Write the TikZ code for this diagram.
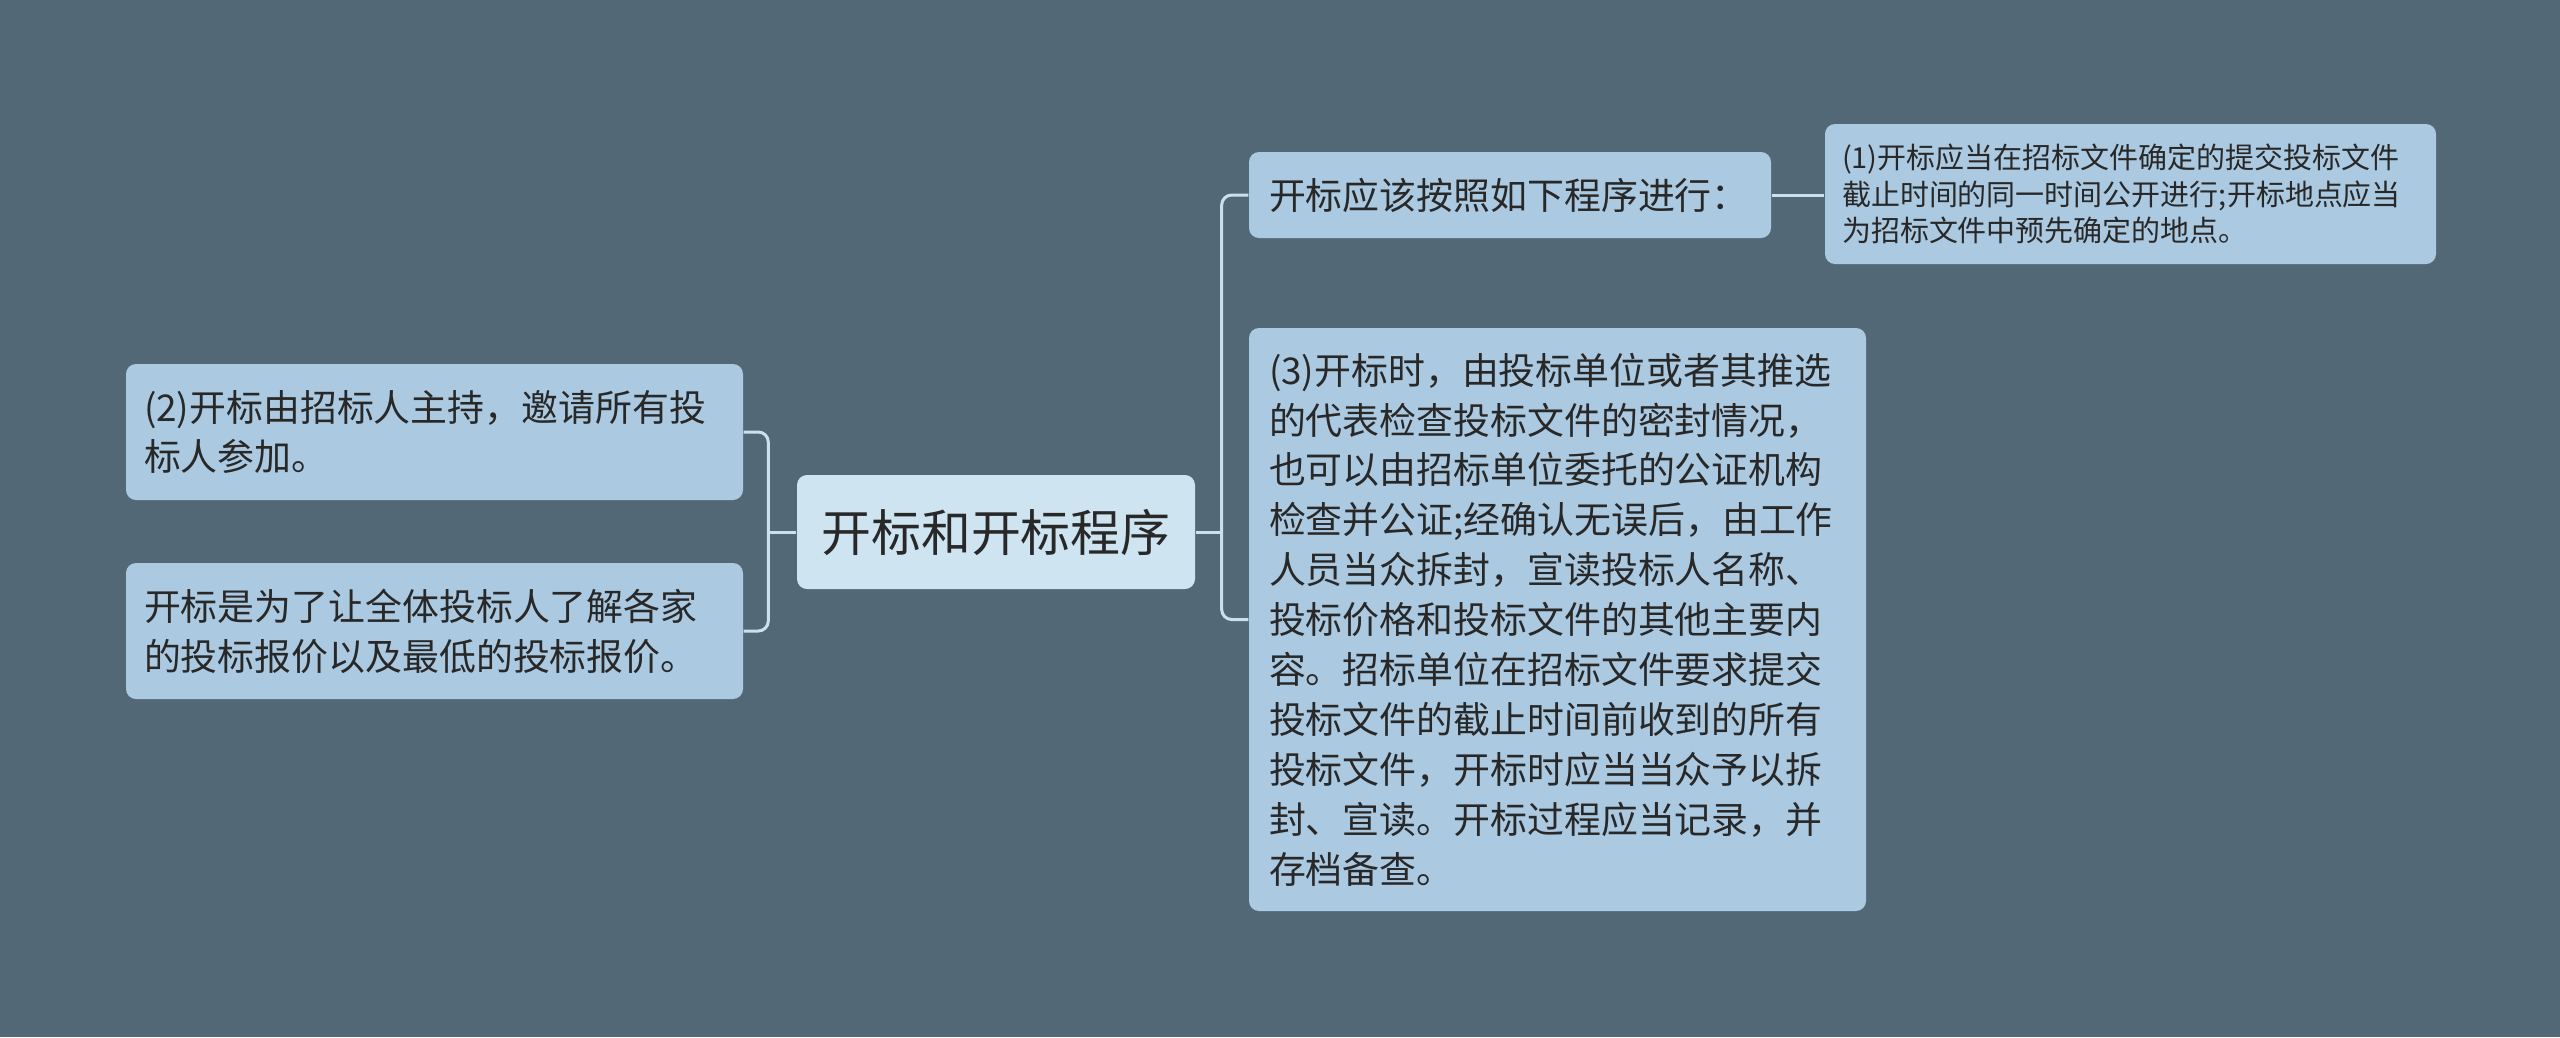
\documentclass[tikz,border=0pt]{standalone}
\usepackage{fontspec}
\setmainfont{Noto Sans CJK SC}
\usepackage{tikz}
\definecolor{bg_slate}{RGB}{83,104,119}
\definecolor{node_blue}{RGB}{171,201,224}
\definecolor{root_blue}{RGB}{206,228,241}
\definecolor{edge_light}{RGB}{200,225,238}
\definecolor{text_dark}{RGB}{40,40,40}

\begin{document}
\begin{tikzpicture}[x=0.1mm,y=-0.1mm]
    \tikzstyle{box}=[rounded corners=1mm, fill=node_blue, text=text_dark, align=left,
                     inner sep=0pt, font=\fontsize{10.5pt}{14.2pt}\selectfont]
    \tikzstyle{root}=[style=box, fill=root_blue, align=center, font=\fontsize{14.2pt}{17pt}\selectfont]
    \tikzstyle{small}=[style=box, font=\fontsize{8.25pt}{10.4pt}\selectfont]
    \tikzstyle{link}=[draw=edge_light, line width=0.3mm, rounded corners=1mm]

    \fill[bg_slate] (0,0) rectangle (2560,1037);
    \useasboundingbox (0,0) rectangle (2560,1037);

    \node[root, minimum width=39.8mm, minimum height=11.4mm] (root) at (996,532) {开标和开标程序};

    \node[box, minimum width=61.7mm, minimum height=13.6mm, text width=58.1mm] (host) at (434.5,432)
      {(2)开标由招标人主持，邀请所有投\\标人参加。};
    \node[box, minimum width=61.7mm, minimum height=13.6mm, text width=58.1mm] (purpose) at (434.5,631)
      {开标是为了让全体投标人了解各家\\的投标报价以及最低的投标报价。};

    \node[box, minimum width=52.2mm, minimum height=8.6mm, text width=48.2mm] (steps) at (1510,195)
      {开标应该按照如下程序进行：};
    \node[box, minimum width=61.7mm, minimum height=58.3mm, text width=57.7mm] (opening) at (1557.5,619.5)
      {(3)开标时，由投标单位或者其推选\\
       的代表检查投标文件的密封情况，\\
       也可以由招标单位委托的公证机构\\
       检查并公证;经确认无误后，由工作\\
       人员当众拆封，宣读投标人名称、\\
       投标价格和投标文件的其他主要内\\
       容。招标单位在招标文件要求提交\\
       投标文件的截止时间前收到的所有\\
       投标文件，开标时应当当众予以拆\\
       封、宣读。开标过程应当记录，并\\
       存档备查。};
    \node[small, minimum width=61.1mm, minimum height=14mm, text width=57.7mm] (timing) at (2130.5,194)
      {(1)开标应当在招标文件确定的提交投标文件\\
       截止时间的同一时间公开进行;开标地点应当\\
       为招标文件中预先确定的地点。};

    % bracket joints
    \coordinate (lj) at ([xshift=-2.8mm]root.west);
    \coordinate (rj) at ([xshift=2.6mm]root.east);

    \draw[link] (root.west) -- (lj);
    \draw[link] (lj) |- (host.east);
    \draw[link] (lj) |- (purpose.east);
    \draw[link] (root.east) -- (rj);
    \draw[link] (rj) |- (steps.west);
    \draw[link] (rj) |- (opening.west);
    \draw[link] (steps.east) -- (steps.east -| timing.west);
\end{tikzpicture}
\end{document}
